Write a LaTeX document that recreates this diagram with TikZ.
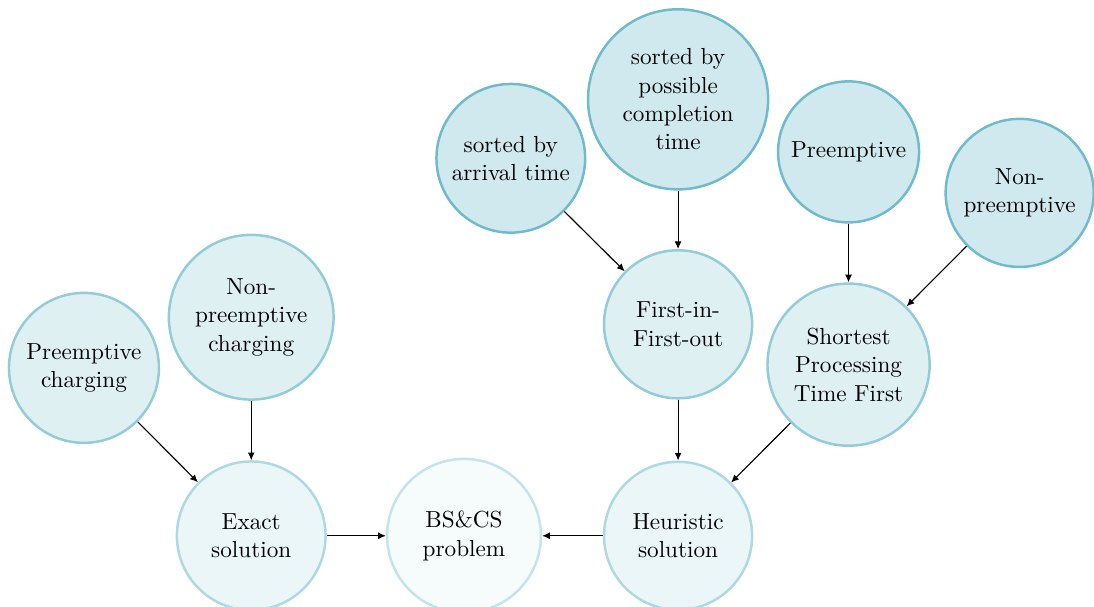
\documentclass[tikz,border=0pt]{standalone}
\usepackage{tikz}
\usepackage{xcolor}
\usetikzlibrary{
    shapes.geometric,
    arrows.meta,
    positioning
}
\definecolor{schedteal}{RGB}{75, 170, 190}

\begin{document}
\begin{tikzpicture}[
        circ/.style={circle, draw, line width=1.1pt, align=center, inner sep=2pt, font=\fontsize{10.3}{12.6}\selectfont},
        top/.style={circ, draw=schedteal!80, fill=schedteal!26},
        mid/.style={circ, draw=schedteal!60, fill=schedteal!18},
        low/.style={circ, draw=schedteal!45, fill=schedteal!11},
        root/.style={circ, draw=schedteal!32, fill=schedteal!5},
        arrow/.style={-{Latex[length=1.2mm, width=1.1mm]}, line width=0.5pt}
    ]
        \useasboundingbox (0,0) rectangle (17.07,9.47);

        % Row 1: sorting and preemption rules
        \node[top, minimum size=2.32cm] (arrival) at (7.97,7.00) {sorted by\\arrival time};
        \node[top, minimum size=2.81cm] (completion) at (10.58,7.92) {sorted by\\possible\\completion\\time};
        \node[top, minimum size=2.20cm] (preempt) at (13.24,7.10) {Preemptive};
        \node[top, minimum size=2.31cm] (nonpreempt) at (15.91,6.46) {Non-\\preemptive};

        % Row 2: charging modes and heuristics
        \node[mid, minimum size=2.34cm] (pcharge) at (1.31,3.73) {Preemptive\\charging};
        \node[mid, minimum size=2.57cm] (npcharge) at (3.92,4.52) {Non-\\preemptive\\charging};
        \node[mid, minimum size=2.31cm] (fifo) at (10.58,4.41) {First-in-\\First-out};
        \node[mid, minimum size=2.53cm] (sptf) at (13.24,3.78) {Shortest\\Processing\\Time First};

        % Row 3: solution approaches
        \node[low, minimum size=2.32cm] (exact) at (3.92,1.11) {Exact\\solution};
        \node[low, minimum size=2.31cm] (heur) at (10.58,1.11) {Heuristic\\solution};

        % Problem
        \node[root, minimum size=2.40cm] (problem) at (7.24,1.11) {BS\&CS\\problem};

        % Arrows - exact side
        \draw[arrow] (pcharge) -- (exact);
        \draw[arrow] (npcharge) -- (exact);
        \draw[arrow] (exact) -- (problem);

        % Arrows - heuristic side
        \draw[arrow] (arrival) -- (fifo);
        \draw[arrow] (completion) -- (fifo);
        \draw[arrow] (preempt) -- (sptf);
        \draw[arrow] (nonpreempt) -- (sptf);
        \draw[arrow] (fifo) -- (heur);
        \draw[arrow] (sptf) -- (heur);
        \draw[arrow] (heur) -- (problem);
    \end{tikzpicture}
\end{document}
